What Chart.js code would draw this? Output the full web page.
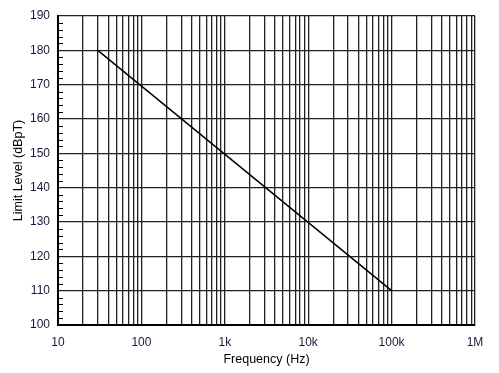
<!DOCTYPE html>
<html>
<head>
<meta charset="utf-8">
<script src="https://cdn.jsdelivr.net/npm/chart.js@4/dist/chart.umd.min.js"></script>
<style>
  html, body { margin: 0; padding: 0; background: #fff; }
  #wrap { width: 499px; height: 373px; }
</style>
</head>
<body>
<div id="wrap"><canvas id="myChart" width="499" height="373"></canvas></div>
<script>
// ------------------   DATA   ----------------
const freqHz = [30, 100000];
const limitLevel = [180, 110];
const xDecades = [10, 100, 1000, 10000, 100000, 1000000];
const xDecadeLabels = ['10', '100', '1k', '10k', '100k', '1M'];
const yMinorTicks = [102, 104, 106, 108, 112, 114, 116, 118, 122, 124, 126, 128, 132, 134, 136, 138,
  142, 144, 146, 148, 152, 154, 156, 158, 162, 164, 166, 168, 172, 174, 176, 178, 182, 184, 186, 188];

const labelColor = '#18183f';

// minor ticks drawn inside the plot on the left axis
const minorTickPlugin = {
  id: 'minorTicks',
  afterDraw(chart) {
    const ctx = chart.ctx;
    const y = chart.scales.y;
    const left = chart.chartArea.left;
    ctx.save();
    ctx.strokeStyle = '#000';
    ctx.lineWidth = 1;
    for (let v of yMinorTicks) {
      const py = Math.round(y.getPixelForValue(v)) + 0.5;
      ctx.beginPath();
      ctx.moveTo(left, py);
      ctx.lineTo(left + 5, py);
      ctx.stroke();
    }
    ctx.restore();
  },
};

let ctx = document.getElementById('myChart').getContext('2d');
let myChart = new Chart(ctx, {
  type: 'line',
  data: {
    datasets: [
      {
        data: freqHz.map((f, i) => ({ x: f, y: limitLevel[i] })),
        borderColor: '#000',
        borderWidth: 1.5,
        pointRadius: 0,
        fill: false,
      },
    ],
  },
  options: {
    responsive: false,
    animation: false,
    layout: { padding: { top: 16, right: 24, left: 0, bottom: 0 } },
    plugins: { legend: { display: false }, tooltip: { enabled: false } },
    scales: {
      x: {
        type: 'logarithmic',
        min: 10,
        max: 1000000,
        border: { color: '#000', width: 2 },
        grid: { color: '#222', lineWidth: 1.3, drawTicks: false },
        afterBuildTicks(scale) {
          const ticks = [];
          for (let d of xDecades) {
            for (let m = 1; m <= 9; m++) {
              const v = d * m;
              if (v <= 1000000) ticks.push({ value: v });
            }
          }
          scale.ticks = ticks;
        },
        afterFit(scale) { scale.height = 48; },
        ticks: {
          autoSkip: false,
          maxRotation: 0,
          padding: 10,
          color: labelColor,
          font: { family: 'Liberation Sans, Arial', size: 12 },
          callback: (value) => {
            const i = xDecades.indexOf(value);
            return i >= 0 ? xDecadeLabels[i] : '';
          },
        },
        title: {
          display: true,
          text: 'Frequency (Hz)',
          color: '#000',
          padding: { top: 0, bottom: 6 },
          font: { family: 'Liberation Sans, Arial', size: 12.5 },
        },
      },
      y: {
        min: 100,
        max: 190,
        border: { color: '#000', width: 2 },
        grid: { color: '#222', lineWidth: 1.3, drawTicks: false },
        afterFit(scale) { scale.width = 58; },
        ticks: {
          stepSize: 10,
          padding: 8,
          color: labelColor,
          font: { family: 'Liberation Sans, Arial', size: 12 },
        },
        title: {
          display: true,
          text: 'Limit Level (dBpT)',
          color: '#000',
          padding: { top: 11, bottom: 0 },
          font: { family: 'Liberation Sans, Arial', size: 12.5 },
        },
      },
    },
  },
  plugins: [minorTickPlugin],
});
</script>
</body>
</html>
